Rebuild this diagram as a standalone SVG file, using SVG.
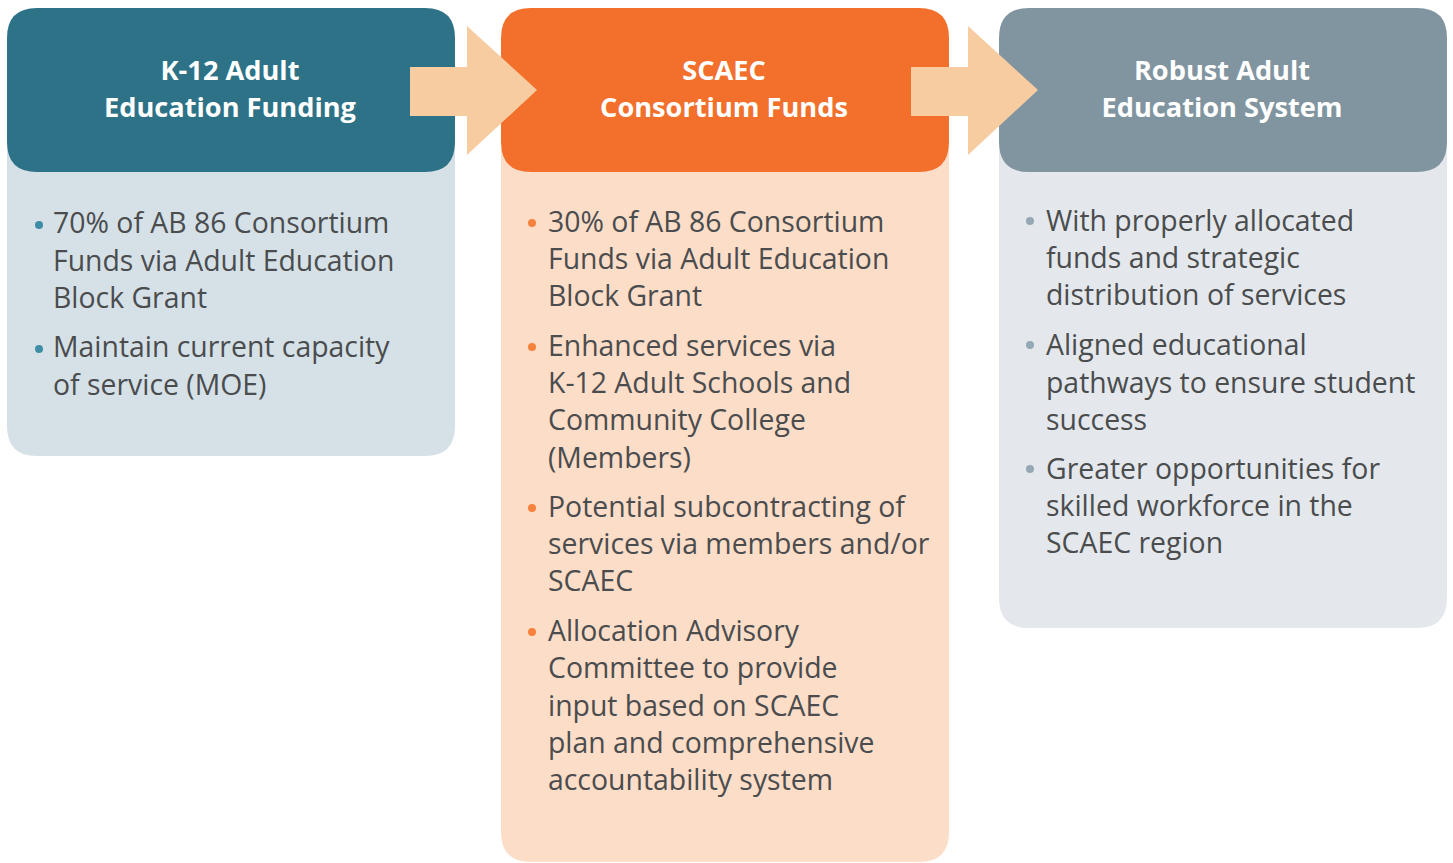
<svg xmlns="http://www.w3.org/2000/svg" width="1453" height="863" viewBox="0 0 1453 863">
  <style>
    .hdr { font-family: "Open Sans", "Noto Sans", sans-serif; font-weight: 700; font-size: 27.2px; fill: #ffffff; text-anchor: middle; }
    .txt { font-family: "Open Sans", "Noto Sans", sans-serif; font-size: 28.4px; fill: #4a4c4e; }
    .arrow { fill: #f7cca0; }
  </style>
  <rect width="1453" height="863" fill="#ffffff"/>

  <!-- Column 1: K-12 funding -->
  <g id="k12-funding">
    <path d="M7 150 V426 Q7 456 37 456 H425 Q455 456 455 426 V150 Z" fill="#d5e1e7"/>
    <path d="M7 38 Q7 8 37 8 H425 Q455 8 455 38 V142 Q455 172 425 172 H37 Q7 172 7 142 Z" fill="#2d7287"/>
    <text class="hdr" x="230" y="80">K-12 Adult</text>
    <text class="hdr" x="230" y="117">Education Funding</text>
    <g fill="#3e8da4">
      <circle cx="39" cy="225" r="4"/>
      <circle cx="39" cy="349" r="4"/>
    </g>
    <text class="txt" x="53" y="233">70% of AB 86 Consortium</text>
    <text class="txt" x="53" y="271">Funds via Adult Education</text>
    <text class="txt" x="53" y="308">Block Grant</text>
    <text class="txt" x="53" y="357">Maintain current capacity</text>
    <text class="txt" x="53" y="395">of service (MOE)</text>
  </g>

  <!-- Column 2: SCAEC consortium funds -->
  <g id="scaec-funds">
    <path d="M501 150 V832 Q501 862 531 862 H919 Q949 862 949 832 V150 Z" fill="#fcddc8"/>
    <path d="M501 38 Q501 8 531 8 H919 Q949 8 949 38 V142 Q949 172 919 172 H531 Q501 172 501 142 Z" fill="#f2702c"/>
    <text class="hdr" x="724" y="80">SCAEC</text>
    <text class="hdr" x="724" y="117">Consortium Funds</text>
    <g fill="#f5823d">
      <circle cx="532" cy="223" r="4"/>
      <circle cx="532" cy="347" r="4"/>
      <circle cx="532" cy="508" r="4"/>
      <circle cx="532" cy="632" r="4"/>
    </g>
    <text class="txt" x="548" y="232">30% of AB 86 Consortium</text>
    <text class="txt" x="548" y="269">Funds via Adult Education</text>
    <text class="txt" x="548" y="306">Block Grant</text>
    <text class="txt" x="548" y="356">Enhanced services via</text>
    <text class="txt" x="548" y="393">K-12 Adult Schools and</text>
    <text class="txt" x="548" y="430">Community College</text>
    <text class="txt" x="548" y="468">(Members)</text>
    <text class="txt" x="548" y="517">Potential subcontracting of</text>
    <text class="txt" x="548" y="554">services via members and/or</text>
    <text class="txt" x="548" y="591">SCAEC</text>
    <text class="txt" x="548" y="641">Allocation Advisory</text>
    <text class="txt" x="548" y="678">Committee to provide</text>
    <text class="txt" x="548" y="716">input based on SCAEC</text>
    <text class="txt" x="548" y="753">plan and comprehensive</text>
    <text class="txt" x="548" y="790">accountability system</text>
  </g>

  <!-- Column 3: robust adult education system -->
  <g id="robust-system">
    <path d="M999 150 V598 Q999 628 1029 628 H1417 Q1447 628 1447 598 V150 Z" fill="#e4e8ec"/>
    <path d="M999 38 Q999 8 1029 8 H1417 Q1447 8 1447 38 V142 Q1447 172 1417 172 H1029 Q999 172 999 142 Z" fill="#8195a1"/>
    <text class="hdr" x="1222" y="80">Robust Adult</text>
    <text class="hdr" x="1222" y="117">Education System</text>
    <g fill="#95a8b5">
      <circle cx="1030" cy="221" r="4"/>
      <circle cx="1030" cy="345" r="4"/>
      <circle cx="1030" cy="469" r="4"/>
    </g>
    <text class="txt" x="1046" y="231">With properly allocated</text>
    <text class="txt" x="1046" y="268">funds and strategic</text>
    <text class="txt" x="1046" y="305">distribution of services</text>
    <text class="txt" x="1046" y="355">Aligned educational</text>
    <text class="txt" x="1046" y="393">pathways to ensure student</text>
    <text class="txt" x="1046" y="430">success</text>
    <text class="txt" x="1046" y="479">Greater opportunities for</text>
    <text class="txt" x="1046" y="516">skilled workforce in the</text>
    <text class="txt" x="1046" y="553">SCAEC region</text>
  </g>

  <!-- Block arrows between columns -->
  <g id="connectors">
    <path class="arrow" d="M410 67 H467 V26 L537 90 L467 155 V116 H410 Z"/>
    <path class="arrow" d="M911 67 H968 V26 L1038 90 L968 155 V116 H911 Z"/>
  </g>
</svg>
